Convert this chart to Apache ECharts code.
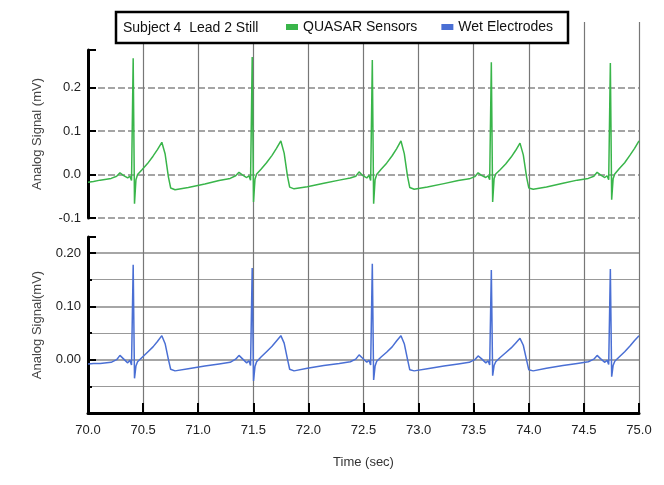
<!DOCTYPE html>
<html>
<head>
<meta charset="utf-8">
<title>Subject 4 Lead 2 Still</title>
<script src="https://cdn.jsdelivr.net/npm/echarts@6/dist/echarts.min.js"></script>
<style>
  html, body { margin: 0; padding: 0; background: #fff; }
  #myChart { width: 664px; height: 485px; }
</style>
</head>
<body>
<div id="myChart"></div>
<script>
// time stamps (sec), same for both traces
var timeSec = [
  70.00, 70.05,
  70.11, 70.21, 70.26, 70.29, 70.32, 70.36, 70.38, 70.395, 70.41, 70.422, 70.435, 70.45, 70.49, 70.54, 70.59, 70.63, 70.67, 70.70, 70.73, 70.75, 70.79, 70.91, 71.06,
  71.19, 71.29, 71.34, 71.37, 71.40, 71.44, 71.46, 71.475, 71.49, 71.502, 71.515, 71.53, 71.57, 71.62, 71.67, 71.71, 71.75, 71.78, 71.81, 71.83, 71.87, 71.99, 72.14,
  72.28, 72.38, 72.43, 72.46, 72.49, 72.53, 72.55, 72.565, 72.58, 72.592, 72.605, 72.62, 72.66, 72.71, 72.76, 72.80, 72.84, 72.87, 72.90, 72.92, 72.96, 73.08, 73.23,
  73.36, 73.46, 73.51, 73.54, 73.57, 73.61, 73.63, 73.645, 73.66, 73.672, 73.685, 73.70, 73.74, 73.79, 73.84, 73.88, 73.92, 73.95, 73.98, 74.00, 74.04, 74.16, 74.31,
  74.44, 74.54, 74.59, 74.62, 74.65, 74.69, 74.71, 74.725, 74.74, 74.752, 74.765, 74.78, 74.82, 74.87, 74.92, 74.96, 75.00
];

// QUASAR sensors (mV)
var quasarMv = [
  -0.018, -0.016,
  -0.013, -0.009, -0.004, 0.004, -0.002, -0.008, -0.004, -0.014, 0.267, -0.067, -0.012, 0.000, 0.011, 0.025, 0.042, 0.057, 0.074, 0.047, -0.006, -0.031, -0.035, -0.030, -0.022,
  -0.014, -0.009, -0.003, 0.005, -0.001, -0.007, -0.003, -0.013, 0.270, -0.063, -0.011, 0.001, 0.012, 0.027, 0.044, 0.060, 0.077, 0.049, -0.004, -0.029, -0.033, -0.028, -0.020,
  -0.013, -0.008, -0.004, 0.006, -0.002, -0.008, -0.002, -0.014, 0.263, -0.067, -0.012, 0.000, 0.012, 0.026, 0.043, 0.059, 0.077, 0.048, -0.005, -0.030, -0.034, -0.029, -0.021,
  -0.014, -0.010, -0.005, 0.004, -0.002, -0.007, -0.003, -0.012, 0.258, -0.063, -0.010, 0.001, 0.011, 0.024, 0.040, 0.055, 0.072, 0.045, -0.006, -0.031, -0.034, -0.029, -0.020,
  -0.013, -0.009, -0.004, 0.005, -0.001, -0.007, -0.003, -0.012, 0.256, -0.058, -0.010, 0.001, 0.013, 0.027, 0.045, 0.060, 0.077
];

// wet electrodes (mV)
var wetMv = [
  -0.008, -0.007,
  -0.007, -0.005, 0.000, 0.008, 0.002, -0.006, -0.001, -0.010, 0.178, -0.035, -0.012, -0.004, 0.004, 0.014, 0.024, 0.034, 0.045, 0.030, 0.000, -0.018, -0.021, -0.017, -0.012,
  -0.008, -0.005, 0.001, 0.008, 0.002, -0.006, -0.002, -0.011, 0.172, -0.040, -0.013, -0.004, 0.005, 0.015, 0.025, 0.035, 0.045, 0.031, 0.001, -0.018, -0.021, -0.016, -0.011,
  -0.007, -0.004, 0.001, 0.009, 0.003, -0.005, -0.001, -0.010, 0.180, -0.038, -0.012, -0.003, 0.005, 0.014, 0.024, 0.035, 0.045, 0.030, 0.000, -0.019, -0.021, -0.017, -0.012,
  -0.008, -0.005, 0.000, 0.007, 0.002, -0.006, -0.002, -0.010, 0.168, -0.030, -0.011, -0.004, 0.004, 0.013, 0.022, 0.031, 0.040, 0.027, -0.001, -0.019, -0.021, -0.016, -0.011,
  -0.007, -0.004, 0.001, 0.008, 0.002, -0.005, -0.001, -0.009, 0.170, -0.032, -0.011, -0.003, 0.005, 0.015, 0.026, 0.036, 0.045
];

var seriesNames = ['QUASAR Sensors', 'Wet Electrodes'];
var plotTitle = 'Subject 4  Lead 2 Still';
var timeRange = [70, 75];

var font = 'Liberation Sans';

// label only the tenths
function tenths(digits) {
  return function (v) {
    if (Math.abs(v * 10 - Math.round(v * 10)) > 1e-6) return '';
    return v.toFixed(digits);
  };
}

var myChart = echarts.init(document.getElementById('myChart'));

var option = {
  animation: false,
  textStyle: { fontFamily: font },
  grid: [
    // background grid for the vertical lines across both panels
    { left: 88, right: 25, top: 22, bottom: 72 },
    { left: 88, right: 25, top: 50, height: 168 },
    { left: 88, right: 25, top: 237, bottom: 72 }
  ],
  graphic: [
    {
      type: 'rect', z: 10,
      shape: { x: 116, y: 12, width: 452, height: 31 },
      style: { fill: '#fff', stroke: '#000', lineWidth: 2.5 }
    },
    {
      type: 'text', z: 11, x: 123, y: 28,
      style: { text: plotTitle, font: '14px "Liberation Sans"', fill: '#111', verticalAlign: 'middle' }
    }
  ],
  legend: {
    z: 20,
    data: seriesNames,
    left: 286, top: 20,
    padding: 0,
    itemWidth: 12, itemHeight: 6, itemGap: 24,
    icon: 'rect',
    textStyle: { fontSize: 14, color: '#111', fontFamily: font }
  },
  xAxis: [
    {
      gridIndex: 0, type: 'value', min: timeRange[0], max: timeRange[1], interval: 0.5,
      axisLine: { show: false }, axisTick: { show: false }, axisLabel: { show: false },
      splitLine: { show: true, showMinLine: false, lineStyle: { color: '#777', width: 1.2 } }
    },
    {
      gridIndex: 1, type: 'value', min: timeRange[0], max: timeRange[1], interval: 0.5, show: false
    },
    {
      gridIndex: 2, type: 'value', min: timeRange[0], max: timeRange[1], interval: 0.5,
      name: 'Time (sec)', nameLocation: 'middle', nameGap: 43,
      nameTextStyle: { fontSize: 13, color: '#333' },
      axisLine: { onZero: false, lineStyle: { color: '#000', width: 3 } },
      axisTick: { inside: true, length: 10, lineStyle: { color: '#000', width: 2 } },
      axisLabel: { fontSize: 13, color: '#222', margin: 11, formatter: function (v) { return v.toFixed(1); } },
      splitLine: { show: false }
    }
  ],
  yAxis: [
    { gridIndex: 0, type: 'value', show: false, min: 0, max: 1 },
    {
      gridIndex: 1, type: 'value', min: -0.1, max: 0.286, interval: 0.1,
      name: 'Analog Signal (mV)', nameLocation: 'middle', nameGap: 44,
      nameTextStyle: { fontSize: 13, color: '#444' },
      axisLine: { show: true, lineStyle: { color: '#000', width: 3 } },
      axisTick: { show: true, inside: true, length: 8, lineStyle: { color: '#000', width: 2 } },
      axisLabel: { fontSize: 13, color: '#222', margin: 7, formatter: tenths(1) },
      splitLine: { show: true, showMaxLine: false, lineStyle: { color: '#888', width: 1.5, type: [7, 3] } }
    },
    {
      gridIndex: 2, type: 'value', min: -0.1, max: 0.23, interval: 0.1,
      name: 'Analog Signal(mV)', nameLocation: 'middle', nameGap: 44,
      nameTextStyle: { fontSize: 13, color: '#444' },
      axisLine: { show: true, lineStyle: { color: '#000', width: 3 } },
      axisTick: { show: true, inside: true, length: 8, lineStyle: { color: '#000', width: 2 } },
      minorTick: { show: true, splitNumber: 2, length: 4, lineStyle: { color: '#000', width: 2 } },
      axisLabel: {
        fontSize: 13, color: '#222', margin: 7,
        formatter: function (v) { return v < -1e-6 ? '' : tenths(2)(v); }
      },
      splitLine: { show: true, showMaxLine: false, lineStyle: { color: '#888', width: 1.5 } },
      minorSplitLine: { show: true, lineStyle: { color: '#999', width: 1.2 } }
    }
  ],
  series: [
    {
      name: seriesNames[0], type: 'line', xAxisIndex: 1, yAxisIndex: 1,
      showSymbol: false, color: '#39b54a',
      lineStyle: { width: 1.5 },
      data: timeSec.map(function (t, i) { return [t, quasarMv[i]]; })
    },
    {
      name: seriesNames[1], type: 'line', xAxisIndex: 2, yAxisIndex: 2,
      showSymbol: false, color: '#4a6fd4',
      lineStyle: { width: 1.5 },
      data: timeSec.map(function (t, i) { return [t, wetMv[i]]; })
    }
  ]
};

myChart.setOption(option);
</script>
</body>
</html>
